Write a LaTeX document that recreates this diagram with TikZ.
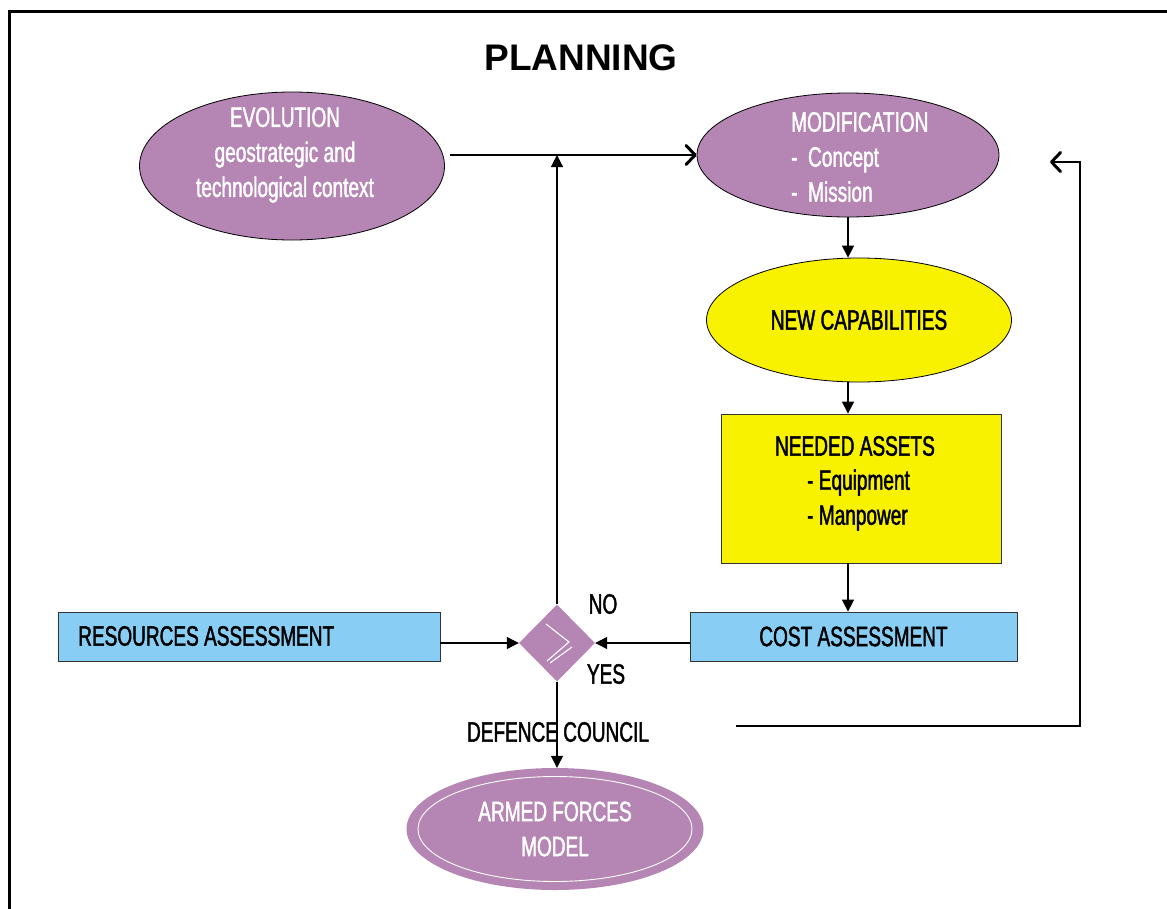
\documentclass[tikz,border=0pt]{standalone}
\usepackage{fontspec}
\setmainfont{Liberation Sans}[FakeStretch=0.68,FakeBold=1.5]
\newfontfamily\titlefont{Liberation Sans}
\usetikzlibrary{shapes.geometric,arrows.meta}
\definecolor{purp}{HTML}{B585B4}
\definecolor{yel}{HTML}{F8F200}
\definecolor{sky}{HTML}{88CEF4}
\begin{document}
\begin{tikzpicture}[x=1pt,y=-1pt,
  font=\fontsize{28}{35}\selectfont,
  every node/.style={inner sep=0pt},
  pell/.style={ellipse, fill=purp, draw=black, line width=0.8pt},
  wtext/.style={text=white},
  rbox/.style={rectangle, draw=black!80, line width=0.8pt},
  conn/.style={line width=1.2pt},
  tri/.style={conn, -{Triangle[length=12pt,width=12pt]}},
  barb/.style={conn, -{Straight Barb[length=9pt,width=19pt,line width=3pt,round]}}
]
\useasboundingbox (0,0) rectangle (1167,908);
\begin{scope}
  \clip (0,0) rectangle (1167,908);
  \draw[line width=3pt] (9.5,11.5) rectangle (1200,950);
\end{scope}

% title
\node (title) at (581,58) {\titlefont\bfseries\fontsize{37}{40}\selectfont PLANNING};

% evolution
\node[pell, minimum width=305, minimum height=148] (evo) at (292,166) {};
\node[wtext, align=center] (evotxt) at (285,155) {EVOLUTION\\geostrategic and\\technological context};

% modification
\node[pell, minimum width=302, minimum height=124] (mod) at (848,155) {};
\node[wtext, align=left, anchor=west] (modtxt) at (791,157) {MODIFICATION\\-~~Concept\\-~~Mission};

% new capabilities
\node[ellipse, fill=yel, draw=black, line width=0.8pt, minimum width=305, minimum height=124] (newcap) at (859,320) {NEW CAPABILITIES};

% needed assets
\node[rbox, fill=yel, minimum width=280, minimum height=149] (assets) at (861,488.5) {};
\node (assetstitle) at (855,446) {NEEDED ASSETS};
\node[align=left, anchor=west] (assetslist) at (807,500) {- Equipment\\- Manpower};

% cost assessment
\node[rbox, fill=sky, minimum width=327, minimum height=49] (cost) at (853.5,636.5) {COST ASSESSMENT};

% resources assessment
\node[rbox, fill=sky, minimum width=382, minimum height=49] (res) at (249,636.5) {};
\node[anchor=west] (restxt) at (78,636) {RESOURCES ASSESSMENT};

% decision diamond
\node[diamond, fill=purp, minimum width=76, minimum height=77] (dia) at (557,643) {};
\begin{scope}[shift={(dia.center)}]
  \draw[white, line width=1.1pt] (-11,-19) -- (12,-1) -- (-10,18);
  \draw[white, line width=1.1pt] (15,4) -- (-7,20);
\end{scope}
\node (no) at (603,604) {NO};
\node (yes) at (606,674) {YES};

% armed forces model
\node[ellipse, fill=purp, minimum width=297, minimum height=122, wtext, align=center] (afm) at (555,829) {ARMED FORCES\\MODEL};
\draw[white, line width=0.9pt] (afm.center) ellipse [x radius=137, y radius=52.5];

% connectors
\draw[barb, shorten <=5pt] (evo.east |- mod.west) -- (mod.west);
\draw[tri] (dia.north) -- (dia.north |- mod.west);
\draw[tri] (mod.south) -- (mod.south |- newcap.north);
\draw[tri] (mod.south |- newcap.south) -- (mod.south |- assets.north);
\draw[tri] (mod.south |- assets.south) -- (mod.south |- cost.north);
\draw[tri] (res.east |- dia.west) -- (dia.west);
\draw[tri] (cost.west |- dia.east) -- (dia.east);
\draw[tri] (dia.south) -- (dia.south |- afm.north);
\node (council) at (558,732) {DEFENCE COUNCIL};

% feedback loop
\coordinate (fbstart) at (736,726);
\coordinate (fbcorner) at (1080,162);
\coordinate (fbend) at (1050,162);
\draw[barb] (fbstart) -| (fbcorner) -- (fbend);
\end{tikzpicture}
\end{document}
